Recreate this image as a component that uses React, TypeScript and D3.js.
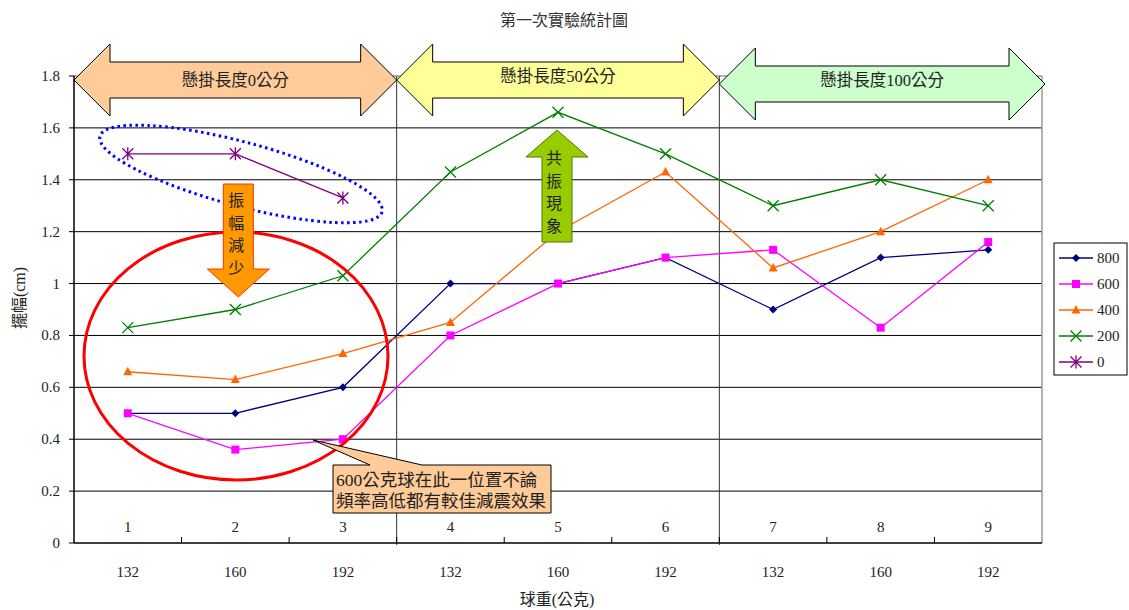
import React from "react";
import * as d3 from "d3";

const categories = ["1", "2", "3", "4", "5", "6", "7", "8", "9"];
const weights = ["132", "160", "192", "132", "160", "192", "132", "160", "192"];
const groupLabels = ["懸掛長度0公分", "懸掛長度50公分", "懸掛長度100公分"];
const yTicks = [0, 0.2, 0.4, 0.6, 0.8, 1, 1.2, 1.4, 1.6, 1.8];
const s800 = [0.5, 0.5, 0.6, 1.0, 1.0, 1.1, 0.9, 1.1, 1.13];
const s600 = [0.5, 0.36, 0.4, 0.8, 1.0, 1.1, 1.13, 0.83, 1.16];
const s400 = [0.66, 0.63, 0.73, 0.85, 1.2, 1.43, 1.06, 1.2, 1.4];
const s200 = [0.83, 0.9, 1.03, 1.43, 1.66, 1.5, 1.3, 1.4, 1.3];
const s0 = [1.5, 1.5, 1.33];

const series = [
  { name: "800", values: s800, color: "#000080", marker: "diamond" },
  { name: "600", values: s600, color: "#FF00FF", marker: "square" },
  { name: "400", values: s400, color: "#FF6600", marker: "triangle" },
  { name: "200", values: s200, color: "#008000", marker: "x" },
  { name: "0", values: s0, color: "#800080", marker: "star" },
];

const FONT = "'Liberation Serif', 'Noto Sans CJK TC', serif";

function Marker({ type, cx, cy, color }: { type: string; cx: number; cy: number; color: string }) {
  if (type === "diamond") {
    const r = 4;
    return <path d={`M${cx},${cy - r}L${cx + r},${cy}L${cx},${cy + r}L${cx - r},${cy}Z`} fill={color} />;
  }
  if (type === "square") {
    return <rect x={cx - 4} y={cy - 4} width={8} height={8} fill={color} />;
  }
  if (type === "triangle") {
    return <path d={`M${cx},${cy - 5}L${cx + 4.5},${cy + 3.5}L${cx - 4.5},${cy + 3.5}Z`} fill={color} />;
  }
  if (type === "x") {
    const r = 5.5;
    return (
      <path d={`M${cx - r},${cy - r}L${cx + r},${cy + r}M${cx - r},${cy + r}L${cx + r},${cy - r}`} stroke={color} strokeWidth={1.3} fill="none" />
    );
  }
  const r = 5.5;
  return (
    <path
      d={`M${cx - r},${cy - r}L${cx + r},${cy + r}M${cx - r},${cy + r}L${cx + r},${cy - r}M${cx},${cy - r - 1}L${cx},${cy + r + 1}`}
      stroke={color}
      strokeWidth={1.3}
      fill="none"
    />
  );
}

function doubleArrow(x0: number, x1: number, cy: number, headH: number, bodyH: number, headW: number) {
  return `M${x0},${cy}L${x0 + headW},${cy - headH}L${x0 + headW},${cy - bodyH}L${x1 - headW},${cy - bodyH}L${x1 - headW},${cy - headH}L${x1},${cy}L${x1 - headW},${cy + headH}L${x1 - headW},${cy + bodyH}L${x0 + headW},${cy + bodyH}L${x0 + headW},${cy + headH}Z`;
}

export default function App() {
  const left = 74, right = 1042, top = 76, bottom = 543;
  const x = d3.scaleBand<number>().domain(d3.range(9)).range([left, right]);
  const y = d3.scaleLinear().domain([0, 1.8]).range([bottom, top]);
  const cx = (i: number) => (x(i) as number) + x.bandwidth() / 2;
  const line = d3.line<number>().x((_, i) => cx(i)).y((d) => y(d));

  const b = (i: number) => x(i) as number; // band start
  const groupBounds = [
    [b(0), b(3)],
    [b(3), b(6)],
    [b(6), right + 3],
  ];
  const groupFills = ["#FFCC99", "#FFFF99", "#CCFFCC"];
  const groupCy = [80, 80, 84];
  const groupTextY = [80, 76, 80];

  // orange down arrow
  const dax = cx(1) + 3;
  const downArrow = `M${dax - 15},184L${dax + 15},184L${dax + 15},269L${dax + 31},269L${dax},297L${dax - 31},269L${dax - 15},269Z`;
  const uax = cx(4) - 1;
  const upArrow = `M${uax},130L${uax + 31},157L${uax + 15},157L${uax + 15},242L${uax - 15},242L${uax - 15},157L${uax - 31},157Z`;

  return (
    <svg width={1129} height={610} style={{ position: "absolute", left: 0, top: 0, fontFamily: FONT }}>
      <rect width={1129} height={610} fill="#fff" />
      <text x={564} y={26} textAnchor="middle" fontSize={16} fill="#333">第一次實驗統計圖</text>

      {/* grid */}
      {yTicks.filter((t) => t > 0 && t < 1.8).map((t) => (
        <line key={t} x1={left} x2={right} y1={y(t)} y2={y(t)} stroke="#000" strokeWidth={1} />
      ))}
      <line x1={left} x2={right} y1={top} y2={top} stroke="#999" strokeWidth={1.5} />
      <line x1={right} x2={right} y1={top} y2={bottom} stroke="#999" strokeWidth={1.5} />
      {[3, 6].map((i) => (
        <line key={i} x1={b(i)} x2={b(i)} y1={top} y2={bottom + 2} stroke="#333" strokeWidth={1} />
      ))}

      {/* axes */}
      <line x1={left} x2={left} y1={top} y2={bottom} stroke="#000" strokeWidth={1.5} />
      <line x1={left} x2={right} y1={bottom} y2={bottom} stroke="#000" strokeWidth={1.5} />
      {yTicks.map((t) => (
        <g key={t}>
          <line x1={left - 5} x2={left} y1={y(t)} y2={y(t)} stroke="#000" />
          <text x={60} y={y(t) + 5} textAnchor="end" fontSize={15} fill="#222">{t}</text>
        </g>
      ))}
      {d3.range(1, 9).map((i) => (
        <line key={i} x1={b(i)} x2={b(i)} y1={bottom - 6} y2={bottom} stroke="#000" />
      ))}
      {categories.map((c, i) => (
        <text key={"c" + i} x={cx(i)} y={532} textAnchor="middle" fontSize={15} fill="#222">{c}</text>
      ))}
      {weights.map((w, i) => (
        <text key={"w" + i} x={cx(i)} y={577} textAnchor="middle" fontSize={15} fill="#222">{w}</text>
      ))}
      <text x={557} y={605} textAnchor="middle" fontSize={16} fill="#222">球重(公克)</text>
      <text transform="translate(25,298) rotate(-90)" textAnchor="middle" fontSize={16} fill="#222">擺幅(cm)</text>

      {/* series */}
      {series.map((s) => (
        <g key={s.name}>
          <path d={line(s.values) as string} fill="none" stroke={s.color} strokeWidth={1.3} />
          {s.values.map((v, i) => (
            <Marker key={i} type={s.marker} cx={cx(i)} cy={y(v)} color={s.color} />
          ))}
        </g>
      ))}

      {/* group arrows */}
      {groupBounds.map(([x0, x1], gi) => (
        <g key={gi}>
          <path d={doubleArrow(x0, x1, groupCy[gi], 36, 18, 36)} fill={groupFills[gi]} stroke="#000" strokeWidth={1} />
          <text x={(x0 + x1) / 2} y={groupTextY[gi] + 6} textAnchor="middle" fontSize={16.5} fill="#222">{groupLabels[gi]}</text>
        </g>
      ))}

      {/* dotted ellipse */}
      <ellipse cx={241} cy={174} rx={146} ry={32} transform="rotate(15,241,174)" fill="none" stroke="#0000FF" strokeWidth={3} strokeDasharray="2.5,3.5" />

      {/* red ellipse */}
      <ellipse cx={236} cy={356} rx={152} ry={124} fill="none" stroke="#FF0000" strokeWidth={3} />

      {/* down arrow */}
      <path d={downArrow} fill="#FF9900" stroke="#FF3300" strokeWidth={1} />
      {["振", "幅", "減", "少"].map((ch, i) => (
        <text key={ch} x={dax - 2} y={206 + i * 22.5} textAnchor="middle" fontSize={16} fill="#222">{ch}</text>
      ))}

      {/* up arrow */}
      <path d={upArrow} fill="#99CC00" stroke="#4D7A00" strokeWidth={1} />
      {["共", "振", "現", "象"].map((ch, i) => (
        <text key={ch} x={uax - 3} y={164 + i * 22.5} textAnchor="middle" fontSize={16} fill="#222">{ch}</text>
      ))}

      {/* callout */}
      <path d="M333,465L370,465L313,440L422,465L551,465L551,513L333,513Z" fill="#FFCC99" stroke="#000" strokeWidth={1} />
      <text x={336} y={486} fontSize={17.5} fill="#222">600公克球在此一位置不論</text>
      <text x={336} y={507} fontSize={17.5} fill="#222">頻率高低都有較佳減震效果</text>

      {/* legend */}
      <rect x={1054} y={243} width={73} height={132} fill="#fff" stroke="#000" strokeWidth={1} />
      {series.map((s, i) => {
        const ly = 258 + i * 26;
        return (
          <g key={s.name}>
            <line x1={1059} x2={1093} y1={ly} y2={ly} stroke={s.color} strokeWidth={1.5} />
            <Marker type={s.marker} cx={1076} cy={ly} color={s.color} />
            <text x={1097} y={ly + 5} fontSize={15} fill="#222">{s.name}</text>
          </g>
        );
      })}
    </svg>
  );
}
